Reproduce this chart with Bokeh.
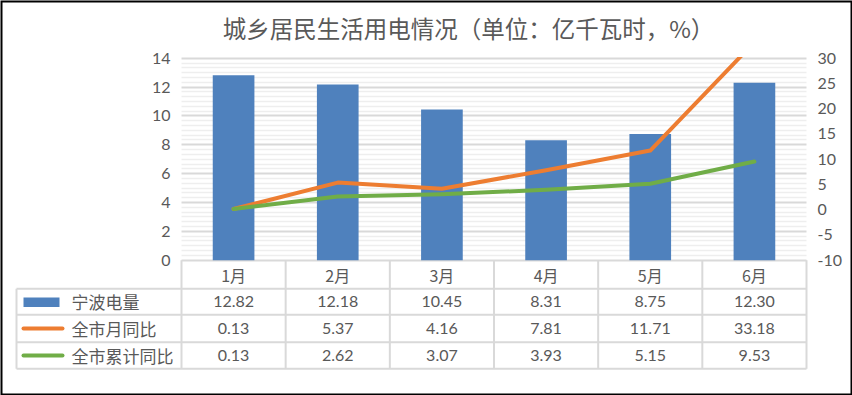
from bokeh.plotting import figure
from bokeh.models import Range1d, LinearAxis, FixedTicker, ColumnDataSource
from bokeh.core.properties import value
from bokeh.embed import file_html
from bokeh.resources import INLINE

# ---------------- data ----------------
months = ["1月", "2月", "3月", "4月", "5月", "6月"]
power = [12.82, 12.18, 10.45, 8.31, 8.75, 12.30]          # 宁波电量 (亿千瓦时)
month_yoy = [0.13, 5.37, 4.16, 7.81, 11.71, 33.18]        # 全市月同比 (%)
cum_yoy = [0.13, 2.62, 3.07, 3.93, 5.15, 9.53]            # 全市累计同比 (%)
series_names = ["宁波电量", "全市月同比", "全市累计同比"]
left_ticks = [0, 2, 4, 6, 8, 10, 12, 14]
right_ticks = [-10, -5, 0, 5, 10, 15, 20, 25, 30]
title_text = "城乡居民生活用电情况（单位：亿千瓦时，%）"

BLUE = "#4F81BD"
ORANGE = "#ED7D31"
GREEN = "#70AD47"
TXT = "#595959"
GRID = "#D9D9D9"
NUMFONT = "Lato"
CJK = "Noto Sans CJK SC"

# ---------------- layout helpers (canvas pixels -> data units) ----------------
W, H = 852, 395
X0, X1 = 181, 806            # plot area left/right (px)
Y0, Y14 = 259.7, 57.7        # px of value 0 and value 14 on the left axis
n = len(months)
COLW = (X1 - X0) / n
PPU = (Y0 - Y14) / (left_ticks[-1] - left_ticks[0])


def cx(px):
    return (px - X0) / COLW


def cy(py):
    return (Y0 - py) / PPU


k = (right_ticks[-1] - right_ticks[0]) / (left_ticks[-1] - left_ticks[0])


def to_right(v):
    return right_ticks[0] + (v - left_ticks[0]) * k


y_start, y_end = cy(H), cy(0)

p = figure(width=W, height=H, x_range=Range1d(cx(0), cx(W)),
           y_range=Range1d(y_start, y_end), output_backend="svg",
           toolbar_location=None, x_axis_location=None,
           min_border_left=0, min_border_right=0, min_border_top=0,
           min_border_bottom=0)
p.outline_line_color = None
p.background_fill_color = "white"
p.border_fill_color = "white"
p.xgrid.grid_line_color = None

# grid
minor = [i / 3 for i in range(0, 43) if i % 6 != 0]
g = p.ygrid[0]
g.ticker = FixedTicker(ticks=left_ticks, minor_ticks=minor)
g.grid_line_color = GRID
g.grid_line_width = 2
g.minor_grid_line_color = "#EEEEEE"
g.minor_grid_line_width = 1.5
g.bounds = (left_ticks[0], left_ticks[-1])
has_cross = "cross_bounds" in g.properties()
if has_cross:
    g.cross_bounds = (0, n)

# axes (drawn at the edges of the plot area)
p.extra_y_ranges = {"r": Range1d(to_right(y_start), to_right(y_end))}
laxis = p.yaxis[0]
laxis.ticker = FixedTicker(ticks=left_ticks)
laxis.fixed_location = 0
raxis = LinearAxis(y_range_name="r", ticker=FixedTicker(ticks=right_ticks))
raxis.fixed_location = n
raxis.major_label_overrides = {t: str(t) for t in right_ticks}
p.add_layout(raxis, "right")
for ax in (laxis, raxis):
    ax.axis_line_color = None
    ax.major_tick_line_color = None
    ax.minor_tick_line_color = None
    ax.major_tick_out = 0
    ax.major_tick_in = 0
    ax.major_label_standoff = 11
    ax.major_label_text_font = NUMFONT
    ax.major_label_text_font_size = "16px"
    ax.major_label_text_color = TXT

if not has_cross:
    p.quad(left=[cx(0)], right=[0], bottom=[cy(262)], top=[y_end],
           fill_color="white", line_color=None)
    p.quad(left=[n], right=[cx(W)], bottom=[cy(262)], top=[y_end],
           fill_color="white", line_color=None)

# series
xs = [i + 0.5 for i in range(n)]
src = ColumnDataSource(dict(x=xs, power=power, myoy=month_yoy, cyoy=cum_yoy))
p.vbar(x="x", top="power", width=0.4, source=src, fill_color=BLUE, line_color=None)
p.line(x="x", y="myoy", source=src, y_range_name="r", line_color=ORANGE,
       line_width=4, line_cap="round", line_join="round")
p.line(x="x", y="cyoy", source=src, y_range_name="r", line_color=GREEN,
       line_width=4, line_cap="round", line_join="round")

# plot-area top edge: hide what lies above the axis maximum
p.quad(left=[cx(0)], right=[cx(W)], bottom=[cy(56.5)], top=[y_end],
       fill_color="white", line_color=None)

# title
p.text(x=[cx(468)], y=[cy(27)], text=[title_text], text_align="center",
       text_baseline="middle", text_font=value(CJK), text_font_size="23.5px",
       text_color=TXT)

# ---------------- data table ----------------
row_lines = [cy(v) for v in (288.3, 314.3, 341.7, 368.3)]
row_mid = [cy(v) for v in (274, 301, 328, 355)]
leg_left = cx(16)

p.segment(x0=[leg_left] * 4, x1=[n] * 4, y0=row_lines, y1=row_lines,
          line_color=GRID, line_width=2)
p.segment(x0=list(range(n + 1)), x1=list(range(n + 1)),
          y0=[0] * (n + 1), y1=[row_lines[-1]] * (n + 1), line_color=GRID, line_width=2)
p.segment(x0=[leg_left], x1=[leg_left], y0=[row_lines[0]], y1=[row_lines[-1]],
          line_color=GRID, line_width=2)

hdr = ColumnDataSource(dict(x=xs, y=[row_mid[0]] * n, t=months))
p.text(x="x", y="y", text="t", source=hdr, text_align="center", text_baseline="middle",
       text_font=value(CJK), text_font_size="16px", text_color=TXT)

for r, vals in enumerate([power, month_yoy, cum_yoy]):
    s = ColumnDataSource(dict(x=xs, y=[row_mid[r + 1]] * n, t=[f"{v:.2f}" for v in vals]))
    p.text(x="x", y="y", text="t", source=s, text_align="center", text_baseline="middle",
           text_font=value(NUMFONT), text_font_size="16px", text_color=TXT)

# legend keys in the first column
p.quad(left=[cx(23)], right=[cx(59)], top=[cy(297)], bottom=[cy(306.5)],
       fill_color=BLUE, line_color=None)
p.segment(x0=[cx(23)], x1=[cx(62)], y0=[row_mid[2]], y1=[row_mid[2]],
          line_color=ORANGE, line_width=4, line_cap="round")
p.segment(x0=[cx(23)], x1=[cx(62)], y0=[row_mid[3]], y1=[row_mid[3]],
          line_color=GREEN, line_width=4, line_cap="round")
leg = ColumnDataSource(dict(x=[cx(71)] * 3, y=row_mid[1:], t=series_names))
p.text(x="x", y="y", text="t", source=leg, text_align="left", text_baseline="middle",
       text_font=value(CJK), text_font_size="17px", text_color=TXT)

# outer black frame of the chart
p.quad(left=[cx(0)], right=[cx(W)], bottom=[cy(H)], top=[cy(0)],
       fill_color=None, line_color="black", line_width=4)

open("out.html", "w").write(file_html(p, INLINE))
